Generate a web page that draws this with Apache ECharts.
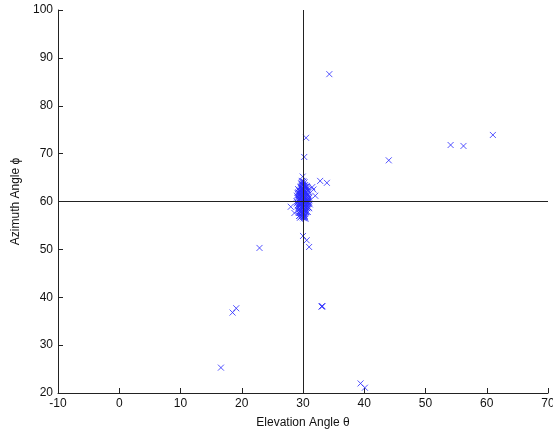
<!DOCTYPE html>
<html>
<head>
<meta charset="utf-8">
<script src="https://cdn.jsdelivr.net/npm/echarts@6/dist/echarts.min.js"></script>
<style>html,body{margin:0;padding:0;background:#fff}#c{width:553px;height:432px}</style>
</head>
<body>
<div id="c"></div>
<script>
// Outlier estimates (elevation θ, azimuth ϕ)
var outlierX = [34.3, 30.5, 30.2, 44.0, 54.1, 56.2, 61.0, 33.9, 32.8, 29.95, 29.8, 31.7, 32.0, 28.0, 29.4, 30.0, 30.6, 31.0, 22.9, 19.1, 18.5, 33.1, 33.15, 33.05, 16.6, 39.4, 40.1, 31.5, 28.6];
var outlierY = [86.6, 73.3, 69.3, 68.6, 71.8, 71.6, 73.9, 63.9, 64.3, 65.2, 64.3, 62.5, 61.2, 58.9, 57.0, 52.8, 51.9, 50.5, 50.3, 37.7, 36.8, 38.1, 38.15, 38.05, 25.3, 22.0, 21.1, 63.0, 57.6];
// Dense cluster around (30, 60)
var clusterX = [30.0, 30.2, 29.8, 30.4, 29.6, 30.1, 29.9, 30.3, 29.7, 30.5, 29.5, 30.6, 29.4, 30.0, 30.2, 29.9, 30.4, 29.6, 30.7, 29.3, 30.1, 29.8, 30.3, 29.7, 30.5, 29.5, 30.0, 30.2, 29.9, 30.8, 29.2, 30.4, 29.6, 30.1, 30.0, 29.8, 30.6, 29.4, 30.3, 29.7, 30.9, 29.1, 30.2, 29.9, 30.5, 29.6, 30.0, 30.1, 29.8, 30.4, 29.5, 30.7, 29.3, 30.0, 30.3, 29.8, 30.2, 30.6, 29.4, 30.8, 29.2,
                29.0, 31.0, 29.1, 30.9, 29.0, 31.1, 29.2, 30.9, 29.3, 30.8, 29.1, 31.0, 29.4, 30.7, 29.2, 30.8, 29.5, 30.6, 29.0, 31.0, 29.3, 30.9, 29.6, 30.4, 29.7, 30.3, 29.4, 30.6, 29.5, 30.7, 29.8, 30.2, 29.9, 30.1, 29.6, 30.5, 29.3, 30.8, 29.5, 30.4,
                29.35, 29.55, 29.75, 29.95, 30.15, 30.35, 30.55, 30.75, 29.45, 29.65, 29.85, 30.05, 30.25, 30.45, 30.65, 29.25, 29.45, 29.65, 29.85, 30.05, 30.25, 30.45, 30.65, 30.85, 29.55, 29.75, 29.95, 30.15, 30.35, 30.55, 29.65, 29.85, 30.05, 30.25, 30.45, 29.75, 29.95, 30.15, 30.35, 29.85, 30.05, 30.25];
var clusterY = [60.0, 60.3, 59.7, 60.8, 59.2, 61.5, 58.5, 62.2, 57.9, 59.4, 60.6, 61.0, 59.0, 62.8, 57.4, 61.9, 58.2, 61.2, 60.1, 60.2, 57.2, 62.5, 58.9, 60.9, 62.0, 58.4, 59.3, 61.1, 60.4, 59.6, 60.8, 63.0, 57.6, 58.0, 63.3, 56.9, 62.6, 61.8, 60.0, 59.5, 60.6, 59.8, 59.0, 62.2, 57.8, 63.0, 61.0, 59.8, 60.3, 61.7, 61.5, 58.6, 58.8, 57.6, 63.4, 63.6, 56.8, 59.0, 62.3, 61.4, 59.3,
                60.0, 60.2, 59.0, 61.0, 61.2, 59.4, 58.2, 62.0, 57.6, 62.4, 61.8, 58.6, 57.0, 63.0, 62.6, 57.8, 56.6, 63.2, 59.6, 60.8, 60.4, 58.8, 61.6, 56.4, 63.8, 57.0, 60.6, 59.8, 58.0, 61.4, 62.8, 58.3, 59.6, 61.7, 62.0, 60.1, 61.3, 60.0, 59.2, 58.7,
                60.5, 60.7, 60.9, 61.1, 60.9, 60.7, 60.5, 60.3, 59.5, 59.3, 59.1, 58.9, 59.1, 59.3, 59.5, 61.9, 62.1, 62.3, 62.5, 62.3, 62.1, 61.9, 61.7, 59.9, 58.1, 57.9, 57.7, 57.5, 57.7, 57.9, 63.1, 63.3, 63.5, 63.3, 63.1, 56.9, 56.7, 56.5, 56.7, 64.0, 64.2, 64.0];
var xTicks = [-10, 0, 10, 20, 30, 40, 50, 60, 70];
var yTicks = [20, 30, 40, 50, 60, 70, 80, 90, 100];
var crossX = 30, crossY = 60;
var xName = 'Elevation Angle θ', yName = 'Azimuth Angle ϕ';

var pts = [];
for (var i = 0; i < clusterX.length; i++) pts.push([clusterX[i], clusterY[i]]);
for (var j = 0; j < outlierX.length; j++) pts.push([outlierX[j], outlierY[j]]);

var font = '"Liberation Sans", Arial, sans-serif';
function axisBase() {
  return {
    axisLine: {show: true, onZero: false, lineStyle: {color: '#222', width: 1}},
    axisTick: {show: true, inside: true, length: 5, lineStyle: {color: '#222'}},
    splitLine: {show: false},
    axisLabel: {color: '#111', fontSize: 12, fontFamily: font, margin: 5},
    nameTextStyle: {color: '#111', fontSize: 12, fontFamily: font}
  };
}
var chart = echarts.init(document.getElementById('c'), null, {renderer: 'canvas'});
chart.setOption({
  backgroundColor: '#fff',
  animation: false,
  grid: {left: 58, right: 5, top: 10, bottom: 39, containLabel: false, outerBoundsMode: 'none'},
  xAxis: Object.assign(axisBase(), {
    type: 'value', min: xTicks[0], max: xTicks[xTicks.length - 1], interval: 10,
    name: xName, nameLocation: 'middle', nameGap: 24
  }),
  yAxis: Object.assign(axisBase(), {
    type: 'value', min: yTicks[0], max: yTicks[yTicks.length - 1], interval: 10,
    name: yName, nameLocation: 'middle', nameGap: 36
  }),
  series: [{
    type: 'scatter',
    data: pts,
    symbol: 'path://M0,0L10,10M10,0L0,10',
    symbolSize: 6,
    itemStyle: {color: 'rgba(0,0,0,0)', borderColor: '#2a2aff', borderWidth: 1},
    markLine: {
      silent: true, symbol: 'none', animation: false,
      label: {show: false},
      lineStyle: {color: '#222', width: 1, type: 'solid'},
      data: [{xAxis: crossX}, {yAxis: crossY}]
    }
  }]
});
</script>
</body>
</html>
